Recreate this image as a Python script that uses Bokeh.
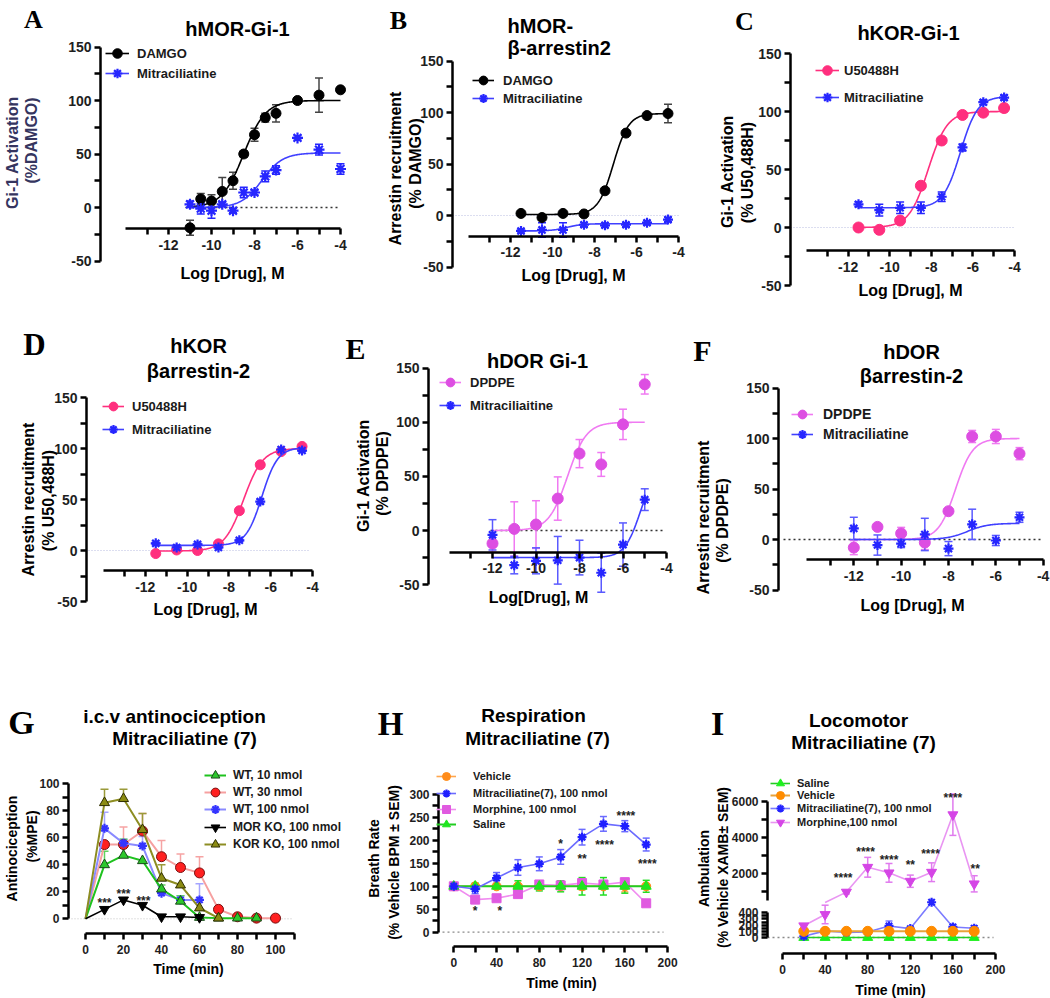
import numpy as np
from bokeh.plotting import figure
from bokeh.models import (Range1d, LinearAxis, FixedTicker, Label, Legend, LegendItem,
                          ColumnDataSource, Whisker, TeeHead)
from bokeh.core.properties import value
from bokeh.embed import file_html
from bokeh.resources import INLINE

# ======================= DATA =======================
# tick labels
log_major = [-12, -10, -8, -6, -4]
log_minor = [-13, -11, -9, -7, -5]
pct_major = [-50, 0, 50, 100, 150]
pct_minor = [-25, 25, 75, 125]

# A  hMOR-Gi-1
a_dose = [-11, -10.5, -10, -9.5, -9, -8.5, -8, -7.5, -7, -6, -5, -4]
a_damgo = [-19, 8, 6, 15, 25, 50, 68, 84, 88, 100, 105, 110]
a_damgo_err = [7, 5, 6, 13, 8, 3, 6, 4, 8, 2, 16, 2]
a_mitra = [3, -1, -3, 3, -3, 14, 14, 29, 35, 65, 54, 36]
a_mitra_err = [3, 5, 7, 2, 2, 5, 2, 5, 4, 2, 5, 5]
a_fit_damgo = [0, 100, -8.5, 0.85]      # bottom, top, logEC50, Hill slope
a_fit_mitra = [0, 51, -7.65, 0.9]
a_span = [-11, -4]

# B  hMOR-beta-arrestin2
b_dose = [-11.5, -10.5, -9.5, -8.5, -7.5, -6.5, -5.5, -4.5]
b_damgo = [2, -2, 2, 1.5, 24, 80, 97, 99]
b_damgo_err = [1, 1, 1, 1, 2, 2, 2, 9]
b_mitra = [-15, -14, -14, -9, -9.5, -9, -7, -4]
b_mitra_err = [2, 7, 7, 2, 2, 2, 2, 2]
b_fit_damgo = [1, 99, -7.1, 1.2]
b_fit_mitra = [-15, -8, -9.3, 1.2]
b_span = [-11.5, -4.5]

# C  hKOR-Gi-1
c_dose = [-11.5, -10.5, -9.5, -8.5, -7.5, -6.5, -5.5, -4.5]
c_u50 = [0, -2, 6, 36, 75, 97, 99, 103]
c_u50_err = [1, 1, 1, 2, 2, 2, 2, 3]
c_mitra = [20, 15, 17, 17, 26.5, 69, 108, 112]
c_mitra_err = [2, 5, 5, 5, 4, 3, 2, 2]
c_fit_u50 = [0, 100, -8.15, 0.95]
c_fit_mitra = [17, 113, -6.6, 1.05]
c_span = [-11.5, -4.5]

# D  hKOR beta-arrestin-2
d_dose = [-11.5, -10.5, -9.5, -8.5, -7.5, -6.5, -5.5, -4.5]
d_u50 = [-3, 0.5, 0, 6.5, 39, 84, 97, 102]
d_u50_err = [1, 1, 1, 1, 2, 2, 2, 2]
d_mitra = [7, 3, 6, 3, 10, 48, 99, 98]
d_mitra_err = [1, 1, 1, 1, 1, 2, 1, 1]
d_fit_u50 = [-0.5, 100, -7.3, 0.95]
d_fit_mitra = [5, 101, -6.42, 1.15]
d_span = [-11.5, -4.5]

# E  hDOR Gi-1
e_dose = [-12, -11, -10, -9, -8, -7, -6, -5]
e_dpdpe = [-12, 1.5, 5.5, 29.5, 71, 61, 98, 135]
e_dpdpe_err = [8, 25, 22, 20, 13, 11, 14, 9]
e_mitra = [-4, -32, -28, -27.5, -25, -39, -13, 28.5]
e_mitra_err = [14, 8, 12, 22, 16, 18, 20, 10]
e_fit_dpdpe = [0, 100, -8.55, 1.0]
e_fit_mitra = [-25, 60, -5.2, 1.2]
e_span = [-12, -5]

# F  hDOR beta-arrestin-2
f_dose = [-12, -11, -10, -9, -8, -7, -6, -5]
f_dpdpe = [-8, 12.5, 6, -3, 28, 102, 102, 85]
f_dpdpe_err = [7, 2, 6, 7, 2, 6, 7, 6]
f_mitra = [11, -5.5, -4, 5, -9, 15, -1, 22]
f_mitra_err = [11, 10, 4, 16, 7, 15, 5, 5]
f_fit_dpdpe = [0, 100, -7.7, 1.2]
f_fit_mitra = [0, 16, -7.2, 1.0]
f_span = [-12, -5]

# G  i.c.v antinociception
g_time = [0, 10, 20, 30, 40, 50, 60, 70, 80, 90, 100]
g_wt10 = [0, 40, 47, 43, 22, 13, 1, 0.5, 0.5, 0.5]
g_wt10_err = [0, 10, 12, 0, 3, 4, 0, 0, 0, 0]
g_wt30 = [0, 55, 55, 65, 46, 38, 34, 7, 1.5, 0.5, 0.5]
g_wt30_err = [0, 0, 13, 13, 12, 10, 12, 0, 0, 0, 0]
g_wt100 = [0, 67, 56, 54, 19, 14, 14]
g_wt100_err = [0, 12, 3, 7, 0, 3, 12]
g_morko = [0, 7, 14, 10, 1.5, 1.5, 1]
g_korko = [0, 86, 89, 66, 30, 25, 8, 0.5]
g_korko_err = [0, 10, 7, 12, 10, 0, 0, 0]
g_star_x = [10, 20, 30.5]
g_star_y = [14.5, 21.5, 16.5]
g_star_txt = ["***", "***", "***"]

# H  Respiration
h_time = [0, 20, 40, 60, 80, 100, 120, 140, 160, 180]
h_vehicle = [100, 100, 100, 100, 100, 100, 100, 100, 100, 100]
h_vehicle_err = [0, 3, 3, 4, 6, 5, 8, 6, 12, 5]
h_mitra = [100, 94, 118, 141, 149, 164, 207, 236, 231, 191]
h_mitra_err = [0, 10, 12, 17, 15, 16, 17, 16, 12, 14]
h_morph = [100, 71, 74, 83, 104, 102, 107, 104, 109, 63]
h_morph_err = [0, 5, 4, 4, 5, 5, 10, 8, 8, 4]
h_saline = [100, 100, 100, 100, 100, 100, 100, 100, 100, 100]
h_saline_err = [0, 7, 5, 12, 10, 12, 19, 19, 15, 13]
h_star_x = [20, 43, 100, 120, 141, 161, 181]
h_star_y = [55, 55, 201, 169, 198, 262, 158]
h_star_txt = ["*", "*", "*", "**", "****", "****", "****"]

# I  Locomotor
i_time = [20, 40, 60, 80, 100, 120, 140, 160, 180]
i_saline = [0, 0, 0, 0, 0, 0, 0, 0, 0]
i_vehicle = [100, 100, 100, 100, 100, 100, 100, 100, 100]
i_mitra = [20, 107, 80, 90, 187, 144, 571, 171, 150]
i_mitra_err = [10, 20, 10, 10, 80, 20, 0, 40, 40]
i_morph = [190, 373, 950, 2330, 2020, 1555, 2055, 5250, 1410]
i_morph_err = [30, 150, 100, 550, 520, 340, 520, 1150, 450]
i_star_x = [57, 78, 100, 120, 139, 160, 181]
i_star_y = [1960, 3390, 2930, 2670, 3300, 6410, 2430]
i_star_txt = ["****", "****", "****", "**", "****", "****", "**"]
i_break = 450   # values above this are drawn on the upper segment

# ======================= FIGURE =======================
W, H, OFF = 1050, 998, 0
BLUE = "#2626ff"
BLUE_L = "#4040ff"
PINK = "#ff2f7e"
ORCHID = "#dd4ee2"
ORCHID_L = "#f07af2"

p = figure(width=W, height=H, x_range=Range1d(0, W), y_range=Range1d(0, H),
           x_axis_type=None, y_axis_type=None, toolbar_location=None,
           output_backend="svg", min_border=0, outline_line_color=None, title=None)


def ranges(name, xmap, ymap, yname=None):
    v1, p1, v2, p2 = xmap
    s = (p2 - p1) / (v2 - v1)
    x0 = v1 - (p1 - OFF) / s
    p.extra_x_ranges[name] = Range1d(x0, x0 + W / s)
    v1, q1, v2, q2 = ymap
    b1, b2 = H - (q1 - OFF), H - (q2 - OFF)
    s = (b2 - b1) / (v2 - v1)
    y0 = v1 - b1 / s
    p.extra_y_ranges[yname or name] = Range1d(y0, y0 + H / s)


def px2x(name, px):
    r = p.extra_x_ranges[name]
    return r.start + (px - OFF) * (r.end - r.start) / W


def py2y(name, py):
    r = p.extra_y_ranges[name]
    return r.start + (H - (py - OFF)) * (r.end - r.start) / H


AX = dict(axis_line_width=2.5, axis_line_color="black", major_tick_line_width=2.5,
          minor_tick_line_width=2.5, major_tick_out=6, major_tick_in=0, minor_tick_out=6,
          minor_tick_in=0, major_label_text_font="Liberation Sans",
          major_label_text_font_style="bold", major_label_text_color="#1e1e1e")


def _axis(rx, ry, at, bounds, ticks, minor, fs, stand):
    return LinearAxis(x_range_name=rx, y_range_name=ry, fixed_location=at, bounds=bounds,
                      ticker=FixedTicker(ticks=ticks, minor_ticks=minor),
                      major_label_overrides={t: str(t) for t in ticks},
                      major_label_text_font_size=f"{fs}px", major_label_standoff=stand, **AX)


def xaxis(rx, ry, at, bounds, ticks, minor, fs, stand=5):
    p.add_layout(_axis(rx, ry, at, bounds, ticks, minor, fs, stand), "below")


def yaxis(rx, ry, at, bounds, ticks, minor, fs, stand=3):
    p.add_layout(_axis(rx, ry, at, bounds, ticks, minor, fs, stand), "left")


def T(s, X, Y, size, bold=True, font="Liberation Sans", angle=0.0, align="center", color="black"):
    p.add_layout(Label(x=X - OFF, y=H - (Y - OFF), text=s, text_font=font,
                       text_font_size=f"{size}px", text_font_style="bold" if bold else "normal",
                       angle=angle, text_align=align, text_baseline="middle", text_color=color))


def errbars(rx, ry, xs, ys, es, color, width=1.5, cap=8, upper_only=False):
    keep = [i for i, e in enumerate(es) if e > 0]
    src = ColumnDataSource(dict(x=[xs[i] for i in keep],
                                lo=[ys[i] if upper_only else ys[i] - es[i] for i in keep],
                                hi=[ys[i] + es[i] for i in keep]))
    w = Whisker(source=src, base="x", lower="lo", upper="hi", line_color=color, line_width=width,
                upper_head=TeeHead(size=cap, line_color=color, line_width=width),
                lower_head=None if upper_only else TeeHead(size=cap, line_color=color, line_width=width),
                x_range_name=rx, y_range_name=ry, level="underlay")
    p.add_layout(w)


def mark(rx, ry, xs, ys, kind, color, size, edge=None):
    if kind == "star":
        r = p.scatter(xs, ys, marker="asterisk", size=size, line_color=color, line_width=2.2,
                      x_range_name=rx, y_range_name=ry)
        p.scatter(xs, ys, marker="circle", size=size * 0.45, fill_color=color, line_color=color,
                  x_range_name=rx, y_range_name=ry)
        return r
    return p.scatter(xs, ys, marker=kind, size=size, fill_color=color, line_color=edge or color,
                     line_width=1, x_range_name=rx, y_range_name=ry)


def curve(rx, ry, fit, span, color, width=1.6):
    bottom, top, ec50, hill = fit
    xs = np.linspace(span[0], span[1], 240)
    ys = bottom + (top - bottom) / (1 + 10 ** ((ec50 - xs) * hill))
    return p.line(xs, ys, line_color=color, line_width=width, x_range_name=rx, y_range_name=ry)


def conn(rx, ry, xs, ys, color, width=1.8):
    return p.line(xs, ys, line_color=color, line_width=width, x_range_name=rx, y_range_name=ry)


def zero(rx, ry, px0, px1, color, dash, width):
    p.line([px2x(rx, px0), px2x(rx, px1)], [0, 0], line_color=color, line_dash=dash,
           line_width=width, x_range_name=rx, y_range_name=ry, level="underlay")


def legend(items, left, centers, glyph, standoff, size):
    # one single-item legend per entry, so that the row pitch follows the reference
    for (lab, rends), cy in zip(items, centers):
        leg = Legend(items=[LegendItem(label=lab, renderers=rends)],
                     location=(left - OFF, H - (cy - OFF) - glyph / 2), orientation="vertical",
                     padding=0, margin=0, spacing=0, glyph_width=glyph, glyph_height=glyph,
                     label_height=glyph, label_standoff=standoff,
                     label_text_font="Liberation Sans", label_text_font_style="bold",
                     label_text_font_size=f"{size}px", label_text_color="#1a1a1a",
                     border_line_color=None, background_fill_alpha=0)
        p.add_layout(leg)


def stars(rx, ry, xs, ys, txt, size):
    p.text(x=xs, y=ys, text=txt, x_range_name=rx, y_range_name=ry,
           text_font=value("Liberation Sans"), text_font_style="bold",
           text_font_size=f"{size}px", text_align="center", text_baseline="middle",
           y_offset=4, text_color="#222222")


def dose_axes(k, yaxis_px):
    xaxis(k, k, -20, (-14, -4), log_major, log_minor, 14, stand=5)
    yaxis(k, k, px2x(k, yaxis_px), (-50, 150), pct_major, pct_minor, 14, stand=3)


SERIF = "Liberation Serif"

# ---------------- A ----------------
ranges("A", (-12, 168, -4, 340), (0, 207, 100, 100))
dose_axes("A", 100)
zero("A", "A", 185, 340, "#333333", "2 3", 1.5)
errbars("A", "A", a_dose, a_damgo, a_damgo_err, "#444444")
errbars("A", "A", a_dose, a_mitra, a_mitra_err, BLUE)
l1 = curve("A", "A", a_fit_damgo, a_span, "black")
m1 = mark("A", "A", a_dose, a_damgo, "circle", "black", 10)
l2 = curve("A", "A", a_fit_mitra, a_span, BLUE_L)
m2 = mark("A", "A", a_dose, a_mitra, "star", BLUE, 11)
legend([("DAMGO", [l1, m1]), ("Mitraciliatine", [l2, m2])], 105, [53, 73], 24, 8, 13)
T("A", 33, 19, 26, font=SERIF)
T("hMOR-Gi-1", 237, 28, 20)
T("Gi-1 Activation", 12, 152, 16, angle=np.pi / 2, color="#35355f")
T("(%DAMGO)", 31, 140, 16, angle=np.pi / 2, color="#35355f")
T("Log [Drug], M", 232, 273, 16)

# ---------------- B ----------------
ranges("B", (-12, 510, -4, 678), (0, 215, 100, 112))
dose_axes("B", 452)
zero("B", "B", 452, 678, "#b8bce0", "1 2", 1)
errbars("B", "B", b_dose, b_damgo, b_damgo_err, "#444444")
errbars("B", "B", b_dose, b_mitra, b_mitra_err, BLUE)
l1 = curve("B", "B", b_fit_damgo, b_span, "black")
m1 = mark("B", "B", b_dose, b_damgo, "circle", "black", 10)
l2 = curve("B", "B", b_fit_mitra, b_span, BLUE_L)
m2 = mark("B", "B", b_dose, b_mitra, "star", BLUE, 10)
legend([("DAMGO", [l1, m1]), ("Mitraciliatine", [l2, m2])], 472, [80, 98], 22, 9, 13)
T("B", 398, 20, 26, font=SERIF)
T("hMOR-", 507, 25, 20, align="left")
T("\u03b2-arrestin2", 507, 47, 20, align="left")
T("Arrestin recruitment", 395, 168, 16, angle=np.pi / 2)
T("(% DAMGO)", 415, 163, 16, angle=np.pi / 2)
T("Log [Drug], M", 573, 275, 16)

# ---------------- C ----------------
ranges("C", (-14, 806, -4, 1014), (0, 227, 100, 111))
dose_axes("C", 790)
zero("C", "C", 790, 1013, "#b8bce0", "1 2", 1)
errbars("C", "C", c_dose, c_u50, c_u50_err, PINK)
errbars("C", "C", c_dose, c_mitra, c_mitra_err, BLUE)
l1 = curve("C", "C", c_fit_u50, c_span, PINK)
m1 = mark("C", "C", c_dose, c_u50, "circle", PINK, 11)
l2 = curve("C", "C", c_fit_mitra, c_span, BLUE_L)
m2 = mark("C", "C", c_dose, c_mitra, "star", BLUE, 10)
legend([("U50488H", [l1, m1]), ("Mitraciliatine", [l2, m2])], 815, [70, 97], 24, 5, 13)
T("C", 744, 21, 26, font=SERIF)
T("hKOR-Gi-1", 908, 32, 20)
T("Gi-1 Activation", 727, 171, 16, angle=np.pi / 2)
T("(% U50,488H)", 747, 172, 16, angle=np.pi / 2)
T("Log [Drug], M", 910, 290, 16)

# ---------------- D ----------------
ranges("D", (-14, 103, -4, 312), (0, 550, 100, 448))
dose_axes("D", 86)
zero("D", "D", 88, 310, "#b8bce0", "1 2", 1)
errbars("D", "D", d_dose, d_u50, d_u50_err, PINK)
errbars("D", "D", d_dose, d_mitra, d_mitra_err, BLUE)
l1 = curve("D", "D", d_fit_u50, d_span, PINK)
m1 = mark("D", "D", d_dose, d_u50, "circle", PINK, 10)
l2 = curve("D", "D", d_fit_mitra, d_span, BLUE_L)
m2 = mark("D", "D", d_dose, d_mitra, "star", BLUE, 10)
legend([("U50488H", [l1, m1]), ("Mitraciliatine", [l2, m2])], 102, [406, 429], 22, 8, 13)
T("D", 34, 344, 31, font=SERIF)
T("hKOR", 198, 345, 20)
T("\u03b2arrestin-2", 198, 370, 20)
T("Arrestin recruitment", 28, 499, 16, angle=np.pi / 2)
T("(% U50,488H)", 48, 500, 16, angle=np.pi / 2)
T("Log [Drug], M", 205, 609, 16)

# ---------------- E ----------------
ranges("E", (-12, 492, -4, 666), (0, 530, 100, 421.7))
dose_axes("E", 428)
zero("E", "E", 490, 665, "#333333", "2 3", 1.5)
errbars("E", "E", e_dose, e_dpdpe, e_dpdpe_err, ORCHID_L)
errbars("E", "E", e_dose, e_mitra, e_mitra_err, "#5a5aff")
l1 = curve("E", "E", e_fit_dpdpe, e_span, ORCHID_L)
m1 = mark("E", "E", e_dose, e_dpdpe, "circle", ORCHID, 11)
l2 = curve("E", "E", e_fit_mitra, e_span, BLUE_L)
m2 = mark("E", "E", e_dose, e_mitra, "star", BLUE, 10)
legend([("DPDPE", [l1, m1]), ("Mitraciliaitine", [l2, m2])], 439, [382, 405], 22, 9, 13)
T("E", 355, 348, 30, font=SERIF)
T("hDOR Gi-1", 537, 360, 20)
T("Gi-1 Activation", 363, 475, 16, angle=np.pi / 2)
T("(% DPDPE)", 382, 473, 16, angle=np.pi / 2)
T("Log[Drug], M", 538, 597, 16)

# ---------------- F ----------------
ranges("F", (-12, 853.3, -5, 1019), (0, 539, 100, 438))
dose_axes("F", 778)
zero("F", "F", 783, 1042, "#333333", "2 3", 1.5)
errbars("F", "F", f_dose, f_dpdpe, f_dpdpe_err, ORCHID_L)
errbars("F", "F", f_dose, f_mitra, f_mitra_err, "#5a5aff")
l1 = curve("F", "F", f_fit_dpdpe, f_span, ORCHID_L)
m1 = mark("F", "F", f_dose, f_dpdpe, "circle", ORCHID, 11)
l2 = curve("F", "F", f_fit_mitra, f_span, BLUE_L)
m2 = mark("F", "F", f_dose, f_mitra, "star", BLUE, 10)
legend([("DPDPE", [l1, m1]), ("Mitraciliatine", [l2, m2])], 791, [414, 434], 22, 10, 14)
T("F", 702, 350, 30, font=SERIF)
T("hDOR", 911, 351, 20)
T("\u03b2arrestin-2", 911, 375, 20)
T("Arrestin recruitment", 703, 517, 16, angle=np.pi / 2)
T("(% DPDPE)", 722, 520, 16, angle=np.pi / 2)
T("Log [Drug], M", 912, 605, 16)

# ---------------- G ----------------
ranges("G", (0, 85, 100, 275), (0, 918.3, 100, 783.3))
xaxis("G", "G", py2y("G", 933), (0, 110), [0, 20, 40, 60, 80, 100], [10, 30, 50, 70, 90, 110], 12)
yaxis("G", "G", px2x("G", 68), (0, 100), [0, 20, 40, 60, 80, 100], [10, 30, 50, 70, 90], 12)
zero("G", "G", 68, 293, "#c4c4c4", "1 2", 1)
n10, n30, n100, nmo, nko = len(g_wt10), len(g_wt30), len(g_wt100), len(g_morko), len(g_korko)
errbars("G", "G", g_time[:n30], g_wt30, g_wt30_err, "#f6a3a3", upper_only=True)
errbars("G", "G", g_time[:n100], g_wt100, g_wt100_err, "#a5a5ff", upper_only=True)
errbars("G", "G", g_time[:n10], g_wt10, g_wt10_err, "#5fd35f", upper_only=True)
errbars("G", "G", g_time[:nko], g_korko, g_korko_err, "#9a9a3a", upper_only=True)
lg30 = conn("G", "G", g_time[:n30], g_wt30, "#f6a0a0", 2)
mg30 = mark("G", "G", g_time[1:n30], g_wt30[1:], "circle", "#ff2020", 10, edge="#7a1010")
lg100 = conn("G", "G", g_time[:n100], g_wt100, "#8a8aff", 2)
mg100 = mark("G", "G", g_time[1:n100], g_wt100[1:], "star", "#3535ff", 9)
lg10 = conn("G", "G", g_time[:n10], g_wt10, "#1ec21e", 2)
mg10 = mark("G", "G", g_time[1:n10], g_wt10[1:], "triangle", "#2cc82c", 10, edge="#1a4a1a")
lko = conn("G", "G", g_time[:nko], g_korko, "#8d8d22", 2)
mko = mark("G", "G", g_time[1:nko], g_korko[1:], "triangle", "#8b8b12", 10, edge="#2e2e00")
lmo = conn("G", "G", g_time[:nmo], g_morko, "black", 1.6)
mmo = mark("G", "G", g_time[1:nmo], g_morko[1:], "inverted_triangle", "black", 10)
stars("G", "G", g_star_x, g_star_y, g_star_txt, 12)
legend([("WT, 10 nmol", [lg10, mg10]), ("WT, 30 nmol", [lg30, mg30]),
        ("WT, 100 nmol", [lg100, mg100]), ("MOR KO, 100 nmol", [lmo, mmo]),
        ("KOR KO, 100 nmol", [lko, mko])], 204, [775, 792, 809, 827, 844], 22, 7, 12)
T("G", 21, 722, 34, font=SERIF)
T("i.c.v antinociception", 174, 716, 19)
T("Mitraciliatine (7)", 184, 738, 19)
T("Antinociception", 11, 848, 14, angle=np.pi / 2)
T("(%MPE)", 31, 836, 14, angle=np.pi / 2)
T("Time (min)", 188, 968, 14)

# ---------------- H ----------------
ranges("H", (0, 453.3, 180, 645.7), (0, 931.7, 300, 794))
xaxis("H", "H", py2y("H", 946), (0, 200), [0, 40, 80, 120, 160, 200], [20, 60, 100, 140, 180], 12)
yaxis("H", "H", px2x("H", 438), (0, 300), [0, 50, 100, 150, 200, 250, 300],
      [25, 75, 125, 175, 225, 275], 12)
zero("H", "H", 442, 663, "#8a8a8a", "2 3", 1.3)
errbars("H", "H", h_time, h_vehicle, h_vehicle_err, "#ffab5c", cap=7)
errbars("H", "H", h_time, h_morph, h_morph_err, "#f08cf0", cap=7)
errbars("H", "H", h_time, h_saline, h_saline_err, "#22dd22", cap=7)
errbars("H", "H", h_time, h_mitra, h_mitra_err, "#6b6bff", cap=7)
lhv = conn("H", "H", h_time, h_vehicle, "#ffa64d", 1.6)
mhv = mark("H", "H", h_time, h_vehicle, "circle", "#ff8c1a", 9)
lhm = conn("H", "H", h_time, h_morph, "#f08cf0", 1.6)
mhm = mark("H", "H", h_time, h_morph, "square", "#e05ae0", 9)
lhs = conn("H", "H", h_time, h_saline, "#22cc22", 2)
mhs = mark("H", "H", h_time, h_saline, "triangle", "#1ee61e", 10)
lhx = conn("H", "H", h_time, h_mitra, "#6b6bff", 1.6)
mhx = mark("H", "H", h_time, h_mitra, "star", "#1f1fff", 9)
stars("H", "H", h_star_x, h_star_y, h_star_txt, 12)
legend([("Vehicle", [lhv, mhv]), ("Mitraciliatine(7), 100 nmol", [lhx, mhx]),
        ("Morphine, 100 nmol", [lhm, mhm]), ("Saline", [lhs, mhs])],
       436, [776, 793, 809, 824], 20, 17, 11)
T("H", 390, 723, 33, font=SERIF)
T("Respiration", 533, 715, 19)
T("Mitraciliatine (7)", 537, 738, 19)
T("Breath Rate", 373, 858, 14, angle=np.pi / 2)
T("(% Vehicle BPM \u00b1 SEM)", 393, 862, 14, angle=np.pi / 2)
T("Time (min)", 561, 982, 14)

# ---------------- I (broken y axis) ----------------
ranges("I", (20, 803.3, 180, 973.7), (0, 937, 400, 912.3))
ranges("I", (20, 803.3, 180, 973.7), (2000, 872.7, 6000, 800.7), yname="Iu")
xaxis("I", "I", py2y("I", 953), (0, 200), [0, 40, 80, 120, 160, 200], [20, 60, 100, 140, 180], 12)
yaxis("I", "I", px2x("I", 767), (0, 400), [0, 100, 200, 300, 400], [50, 150, 250, 350], 12)
yaxis("I", "Iu", px2x("I", 767), (500, 6000), [2000, 4000, 6000], [1000, 3000, 5000], 12)
zero("I", "I", 767, 993, "#8a8a8a", "2 3", 1.3)
lo_idx = [k for k, v in enumerate(i_morph) if v <= i_break]
hi_start = min(k for k, v in enumerate(i_morph) if v > i_break) - 1
t_lo = [i_time[k] for k in lo_idx]
m_lo = [i_morph[k] for k in lo_idx]
e_lo = [i_morph_err[k] for k in lo_idx]
t_hi = i_time[hi_start:]
m_hi = i_morph[hi_start:]
e_hi = i_morph_err[hi_start + 1:]
errbars("I", "I", i_time, i_mitra, i_mitra_err, "#7b7bff", cap=7)
errbars("I", "I", t_lo, m_lo, e_lo, "#e07aee", cap=7)
errbars("I", "Iu", t_hi[1:], m_hi[1:], e_hi, "#e07aee", cap=7)
lis = conn("I", "I", i_time, i_saline, "#22cc22", 1.6)
mis = mark("I", "I", i_time, i_saline, "triangle", "#1ef01e", 10)
lix = conn("I", "I", i_time, i_mitra, "#7b7bff", 1.6)
mix = mark("I", "I", i_time, i_mitra, "star", "#2424ff", 9)
liv = conn("I", "I", i_time, i_vehicle, "#e8a33b", 2)
miv = mark("I", "I", i_time, i_vehicle, "circle", "#ff8c00", 10)
lim = conn("I", "I", t_lo, m_lo, "#e995f2", 1.6)
conn("I", "Iu", t_hi, m_hi, "#e995f2", 1.6)
mim = mark("I", "I", t_lo, m_lo, "inverted_triangle", "#d545e6", 10)
mark("I", "Iu", t_hi[1:], m_hi[1:], "inverted_triangle", "#d545e6", 10)
stars("I", "Iu", i_star_x, i_star_y, i_star_txt, 12)
legend([("Saline", [lis, mis]), ("Vehicle", [liv, miv]),
        ("Mitraciliatine(7), 100 nmol", [lix, mix]), ("Morphine,100 nmol", [lim, mim])],
       770, [783, 795, 808, 822], 20, 7, 11)
T("I", 717, 723, 34, font=SERIF)
T("Locomotor", 858, 720, 19)
T("Mitraciliatine (7)", 863, 742, 19)
T("Ambulation", 703, 868, 14, angle=np.pi / 2)
T("(% Vehicle XAMB\u00b1 SEM)", 722, 867, 14, angle=np.pi / 2)
T("Time (min)", 890, 989, 14)

open("out.html", "w").write(file_html(p, INLINE))
